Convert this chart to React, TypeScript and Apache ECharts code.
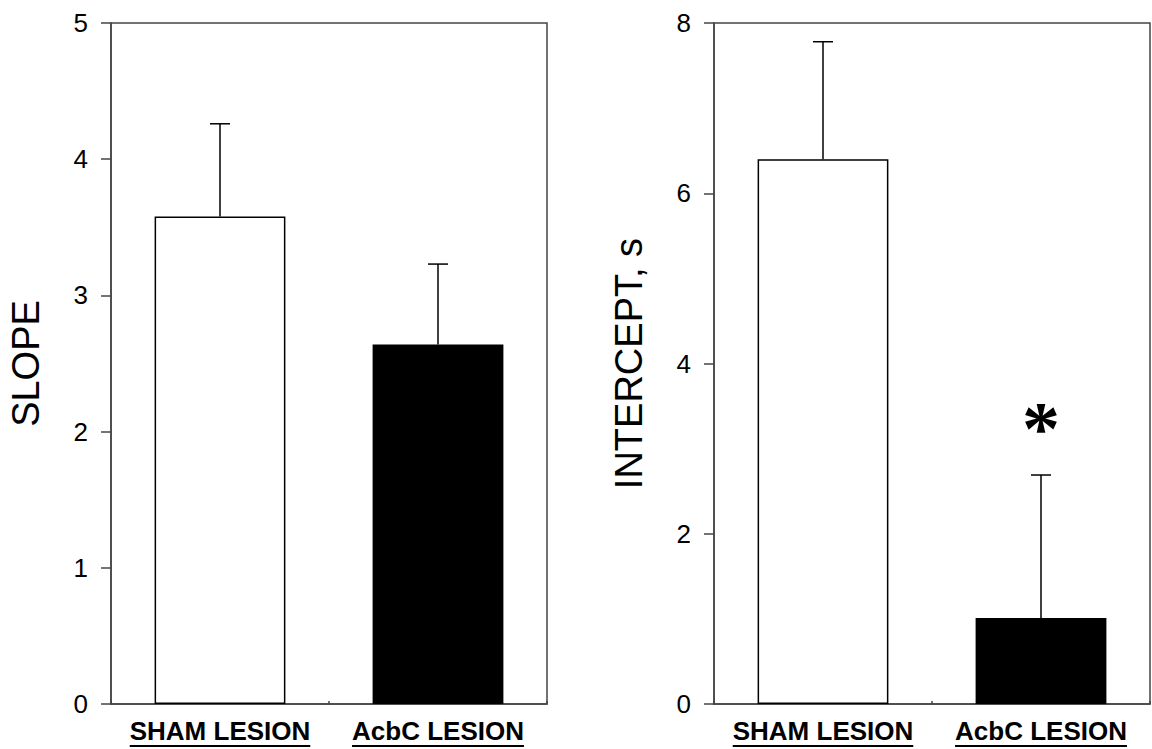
import React, { useEffect, useRef } from "react";
import * as echarts from "echarts";

const categories = ["SHAM LESION", "AcbC LESION"];
const barFills = ["#ffffff", "#000000"];

const slopeMeans = [3.58, 2.64];
const slopeErrors = [0.68, 0.59];
const slopeMarks = ["", ""];
const slopeAxis = { min: 0, max: 5, interval: 1 };

const interceptMeans = [6.4, 1.01];
const interceptErrors = [1.38, 1.68];
const interceptMarks = ["", "*"];
const interceptAxis = { min: 0, max: 8, interval: 2 };

const FONT = '"Liberation Sans", Arial, Helvetica, sans-serif';
const AXIS_COLOR = "#444444";
const LABEL_SIZE = 26;
const LABEL_MARGIN = 14;
const MARK_SIZE = 76;

function yAxisFor(name: string, range: { min: number; max: number; interval: number }, gridIndex: number) {
  return {
    type: "value",
    gridIndex,
    min: range.min,
    max: range.max,
    interval: range.interval,
    name,
    nameLocation: "middle",
    nameGap: 66,
    nameTextStyle: { fontFamily: FONT, fontSize: 38, color: "#000" },
    axisLine: { show: true, lineStyle: { color: AXIS_COLOR, width: 1.5 } },
    axisTick: { show: true, inside: false, length: 10, lineStyle: { color: AXIS_COLOR, width: 1.5 } },
    axisLabel: { fontFamily: FONT, fontSize: 26, color: "#000", margin: 23 },
    splitLine: { show: false },
  };
}

function xAxisFor(gridIndex: number) {
  return {
    type: "category",
    gridIndex,
    data: categories,
    boundaryGap: true,
    axisLine: { show: true, lineStyle: { color: AXIS_COLOR, width: 1.5 } },
    axisTick: { show: true, inside: true, length: 3, alignWithLabel: false, lineStyle: { color: AXIS_COLOR, width: 1.5 } },
    axisLabel: {
      interval: 0,
      hideOverlap: false,
      fontFamily: FONT,
      fontSize: LABEL_SIZE,
      fontWeight: "bold",
      color: "#000",
      margin: LABEL_MARGIN,
    },
    splitLine: { show: false },
  };
}

function barSeries(means: number[], axisIndex: number) {
  return {
    type: "bar",
    xAxisIndex: axisIndex,
    yAxisIndex: axisIndex,
    barWidth: "60%",
    data: means.map((v, i) => ({
      value: v,
      itemStyle: { color: barFills[i], borderColor: "#000", borderWidth: 1.5 },
    })),
    z: 3,
  };
}

function errorSeries(means: number[], errs: number[], marks: string[], axisIndex: number) {
  return {
    type: "custom",
    xAxisIndex: axisIndex,
    yAxisIndex: axisIndex,
    data: means.map((m, i) => [i, m, m + errs[i]]),
    encode: { x: 0, y: [1, 2] },
    z: 5,
    renderItem: (params: any, api: any) => {
      const idx = api.value(0);
      const base = api.coord([idx, api.value(1)]);
      const top = api.coord([idx, api.value(2)]);
      const half = 10;
      const children: any[] = [
        { type: "line", shape: { x1: base[0], y1: base[1], x2: top[0], y2: top[1] }, style: { stroke: "#000", lineWidth: 1.5 } },
        { type: "line", shape: { x1: top[0] - half, y1: top[1], x2: top[0] + half, y2: top[1] }, style: { stroke: "#000", lineWidth: 1.5 } },
      ];
      const mark = marks[params.dataIndex];
      if (mark) {
        children.push({
          type: "text",
          x: top[0],
          y: top[1] - 57 - 0.37 * MARK_SIZE,
          style: {
            text: mark,
            font: `bold ${MARK_SIZE}px "Liberation Serif"`,
            fill: "#000",
            align: "center",
            verticalAlign: "top",
          },
        });
      }
      return { type: "group", children };
    },
  };
}

export default function App() {
  const ref = useRef<HTMLDivElement>(null);

  useEffect(() => {
    if (!ref.current) return;
    const chart = echarts.init(ref.current, null, { renderer: "svg" });
    const gridBase = { top: 23, bottom: 45, show: true, borderColor: AXIS_COLOR, borderWidth: 1.5, backgroundColor: "transparent", containLabel: false };
    chart.setOption({
      animation: false,
      backgroundColor: "#ffffff",
      grid: [
        { ...gridBase, left: 111, right: 605 },
        { ...gridBase, left: 714, right: 2 },
      ],
      xAxis: [xAxisFor(0), xAxisFor(1)],
      yAxis: [yAxisFor("SLOPE", slopeAxis, 0), yAxisFor("INTERCEPT, s", interceptAxis, 1)],
      series: [
        barSeries(slopeMeans, 0),
        errorSeries(slopeMeans, slopeErrors, slopeMarks, 0),
        barSeries(interceptMeans, 1),
        errorSeries(interceptMeans, interceptErrors, interceptMarks, 1),
      ],
    });

    // underline the category labels
    const canvas = document.createElement("canvas");
    const ctx = canvas.getContext("2d");
    const lines: any[] = [];
    if (ctx) {
      ctx.font = `bold ${LABEL_SIZE}px ${FONT}`;
      [0, 1].forEach((ai) => {
        const baseY = chart.convertToPixel({ yAxisIndex: ai } as any, 0) as number;
        categories.forEach((c) => {
          const cx = chart.convertToPixel({ xAxisIndex: ai } as any, c) as number;
          const w = ctx.measureText(c).width;
          const y = baseY + LABEL_MARGIN + LABEL_SIZE + 2;
          lines.push({
            type: "line",
            shape: { x1: cx - w / 2, y1: y, x2: cx + w / 2, y2: y },
            style: { stroke: "#000", lineWidth: 2.2 },
          });
        });
      });
    }
    chart.setOption({ graphic: lines });

    return () => chart.dispose();
  }, []);

  return <div ref={ref} style={{ position: "fixed", left: 0, top: 0, width: 1152, height: 749 }} />;
}
